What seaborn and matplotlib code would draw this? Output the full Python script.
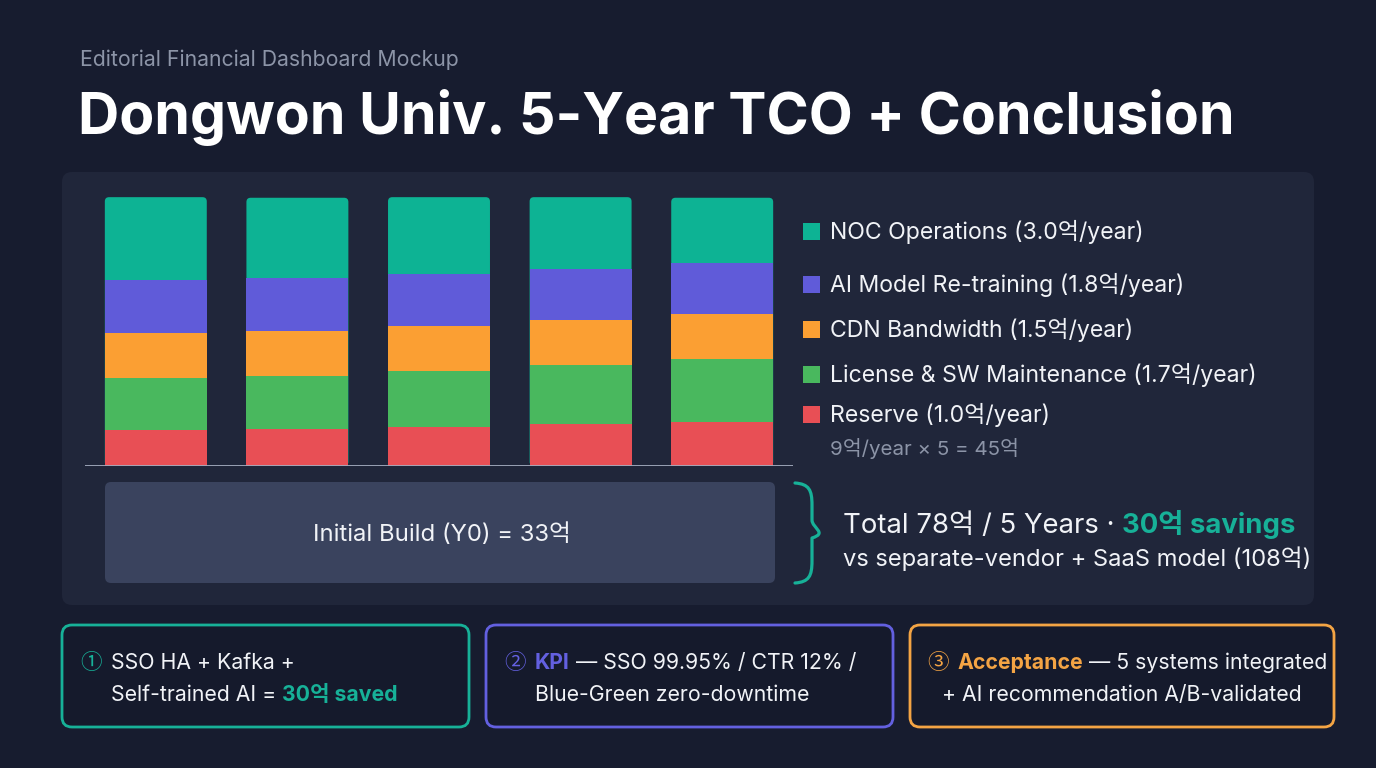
import matplotlib
matplotlib.use("Agg")
import matplotlib.pyplot as plt
import seaborn as sns
import pandas as pd
import numpy as np
from matplotlib.patches import FancyBboxPatch, PathPatch, Rectangle
from matplotlib.path import Path

# ---------------- data ----------------
years = ["Y1", "Y2", "Y3", "Y4", "Y5"]
categories = ["NOC Operations", "AI Model Re-training", "CDN Bandwidth",
              "License & SW Maintenance", "Reserve"]
annual_rates = [3.0, 1.8, 1.5, 1.7, 1.0]
noc = [2.79, 2.70, 2.57, 2.41, 2.18]
ai_retrain = [1.77, 1.76, 1.74, 1.72, 1.73]
cdn = [1.50, 1.52, 1.51, 1.50, 1.48]
license_sw = [1.73, 1.76, 1.89, 1.98, 2.12]
reserve = [1.22, 1.25, 1.30, 1.40, 1.48]
initial_build = 33
total_5y = 78
savings = 30
alt_model = 108

colors = ["#0db394", "#605bd9", "#fb9f33", "#49b85e", "#e84f55"]
BG = "#171c2f"
PANEL = "#20263a"
WHITE = "#f1f3f7"
GRAY = "#8c94a7"
TEAL = "#17b198"
PURPLE = "#6360e0"
ORANGE = "#f4a444"

sns.set_theme(style="white")
FAM = ["Inter", "Noto Sans CJK KR", "DejaVu Sans"]
plt.rcParams["font.family"] = FAM

W, H = 1376, 768
fig = plt.figure(figsize=(W / 100, H / 100), dpi=100, facecolor=BG)
bg = fig.add_axes([0, 0, 1, 1])
bg.set_xlim(0, W)
bg.set_ylim(H, 0)
bg.axis("off")
bg.set_facecolor(BG)
renderer = fig.canvas.get_renderer()

# panel
bg.add_patch(FancyBboxPatch((62, 172), 1252, 433,
                            boxstyle="round,pad=0,rounding_size=10",
                            fc=PANEL, ec="none", zorder=1))


def space_w(size, weight):
    t1 = bg.text(0, 0, "a a", fontsize=size, fontweight=weight)
    t2 = bg.text(0, 0, "aa", fontsize=size, fontweight=weight)
    w = t1.get_window_extent(renderer).width - t2.get_window_extent(renderer).width
    t1.remove(); t2.remove()
    return w


def rich(x, y, parts, size, zorder=5):
    cx = x
    for s, c, w in parts:
        lead = len(s) - len(s.lstrip(" "))
        trail = len(s) - len(s.rstrip(" "))
        sw = space_w(size, w)
        cx += lead * sw
        core = s.strip(" ")
        if core:
            t = bg.text(cx, y, core, color=c, fontsize=size, fontweight=w,
                        va="baseline", ha="left", zorder=zorder)
            cx += t.get_window_extent(renderer).width
        cx += trail * sw
    return cx


# titles
bg.text(80, 66, "Editorial Financial Dashboard Mockup", color=GRAY,
        fontsize=15.3, va="baseline", ha="left")
bg.text(78, 134, "Dongwon Univ. 5-Year TCO + Conclusion", color="white",
        fontsize=41.2, fontweight="bold", va="baseline", ha="left")

# ---------------- stacked bars ----------------
df = pd.DataFrame({"year": years, "noc": noc, "ai": ai_retrain, "cdn": cdn,
                   "lic": license_sw, "res": reserve})
layers = ["res", "lic", "cdn", "ai", "noc"]  # bottom -> top
cum = df[layers].cumsum(axis=1)

ax = fig.add_axes([85 / W, (H - 466) / H, 708 / W, (466 - 190) / H])
ax.set_facecolor("none")
layer_colors = dict(zip(["noc", "ai", "cdn", "lic", "res"], colors))
for i, key in enumerate(reversed(layers)):
    plot_df = pd.DataFrame({"year": years, "v": cum[key]})
    n_before = len(ax.patches)
    sns.barplot(data=plot_df, x="year", y="v", color=layer_colors[key],
                saturation=1, width=0.72, errorbar=None, ax=ax,
                linewidth=0, zorder=2 + i)
    if key == "noc":
        # round the top corners of the top segment
        for p in list(ax.patches[n_before:]):
            x0, y0, w, h = p.get_x(), p.get_y(), p.get_width(), p.get_height()
            rp = FancyBboxPatch((x0, y0), w, h,
                                boxstyle="round,pad=0,rounding_size=0.03",
                                mutation_aspect=4.74, fc=p.get_facecolor(),
                                ec="none", zorder=2)
            p.set_visible(False)
            ax.add_patch(rp)
ax.set_xlim(-0.5, 4.5)
ax.set_ylim(0, 9.25)
ax.axhline(0, color="#a3abbe", lw=1.3, zorder=20)
ax.axis("off")

# legend (manual)
leg_y = [239, 292, 337, 382, 422]
for name, rate, col, yb in zip(categories, annual_rates, colors, leg_y):
    bg.add_patch(Rectangle((803, yb - 16.5), 17, 17, fc=col, ec="none", zorder=5))
    bg.text(830, yb, f"{name} ({rate:.1f}억/year)", color=WHITE,
            fontsize=16.6, va="baseline", ha="left", zorder=5)
annual_total = sum(annual_rates)
bg.text(830, 455, f"{annual_total:.0f}억/year × 5 = {annual_total * 5:.0f}억",
        color=GRAY, fontsize=14.8, va="baseline", ha="left", zorder=5)

# initial build box
bg.add_patch(FancyBboxPatch((105, 482), 670, 101,
                            boxstyle="round,pad=0,rounding_size=6",
                            fc="#3a435e", ec="none", zorder=3))
bg.text(442, 541, f"Initial Build (Y0) = {initial_build}억", color=WHITE,
        fontsize=17.2, va="baseline", ha="center", zorder=5)

# curly brace
verts = [(795, 483), (809, 484), (812, 490), (812, 505),
         (812, 505), (812, 520), (812, 528), (828, 533),
         (812, 538), (812, 546), (812, 561),
         (812, 561), (812, 576), (809, 582), (795, 583)]
codes = [Path.MOVETO, Path.CURVE4, Path.CURVE4, Path.CURVE4,
         Path.LINETO, Path.LINETO, Path.CURVE4, Path.CURVE4,
         Path.CURVE4, Path.CURVE4, Path.LINETO,
         Path.LINETO, Path.CURVE4, Path.CURVE4, Path.CURVE4]
bg.add_patch(PathPatch(Path(verts, codes), fc="none", ec=TEAL, lw=2.3,
                       capstyle="round", joinstyle="round", zorder=5))

rich(843, 533, [(f"Total {total_5y}억 / 5 Years · ", WHITE, "normal"),
                (f"{savings}억 savings", TEAL, "bold")], 19.8)
bg.text(843, 566, f"vs separate-vendor + SaaS model ({alt_model}억)",
        color=WHITE, fontsize=17.1, va="baseline", ha="left", zorder=5)

# ---------------- cards ----------------
cards = [(62, 407, TEAL), (486, 407, PURPLE), (910, 424, ORANGE)]
for x0, w, c in cards:
    bg.add_patch(FancyBboxPatch((x0, 625), w, 102,
                                boxstyle="round,pad=0,rounding_size=10",
                                fc="#151a2c", ec=c, lw=2, zorder=3))

CS = 15.3
for x, ch, c in [(80, "①", TEAL), (504, "②", PURPLE), (927, "③", ORANGE)]:
    bg.text(x, 669, ch, color=c, fontsize=15.5, va="baseline", ha="left",
            family=["Noto Sans CJK KR"], zorder=5)

rich(111, 669, [("SSO HA + Kafka +", WHITE, "normal")], CS)
rich(111, 701, [("Self-trained AI = ", WHITE, "normal"),
                (f"{savings}억 saved", TEAL, "bold")], CS)

rich(535, 669, [("KPI", PURPLE, "bold"),
                (" — SSO 99.95% / CTR 12% /", WHITE, "normal")], CS)
rich(535, 701, [("Blue-Green zero-downtime", WHITE, "normal")], CS)

rich(957, 669, [("Acceptance", ORANGE, "bold"),
                (" — 5 systems integrated", WHITE, "normal")], CS)
rich(942, 701, [("+ AI recommendation A/B-validated", WHITE, "normal")], CS)

fig.savefig("out.png", dpi=100, facecolor=BG)
